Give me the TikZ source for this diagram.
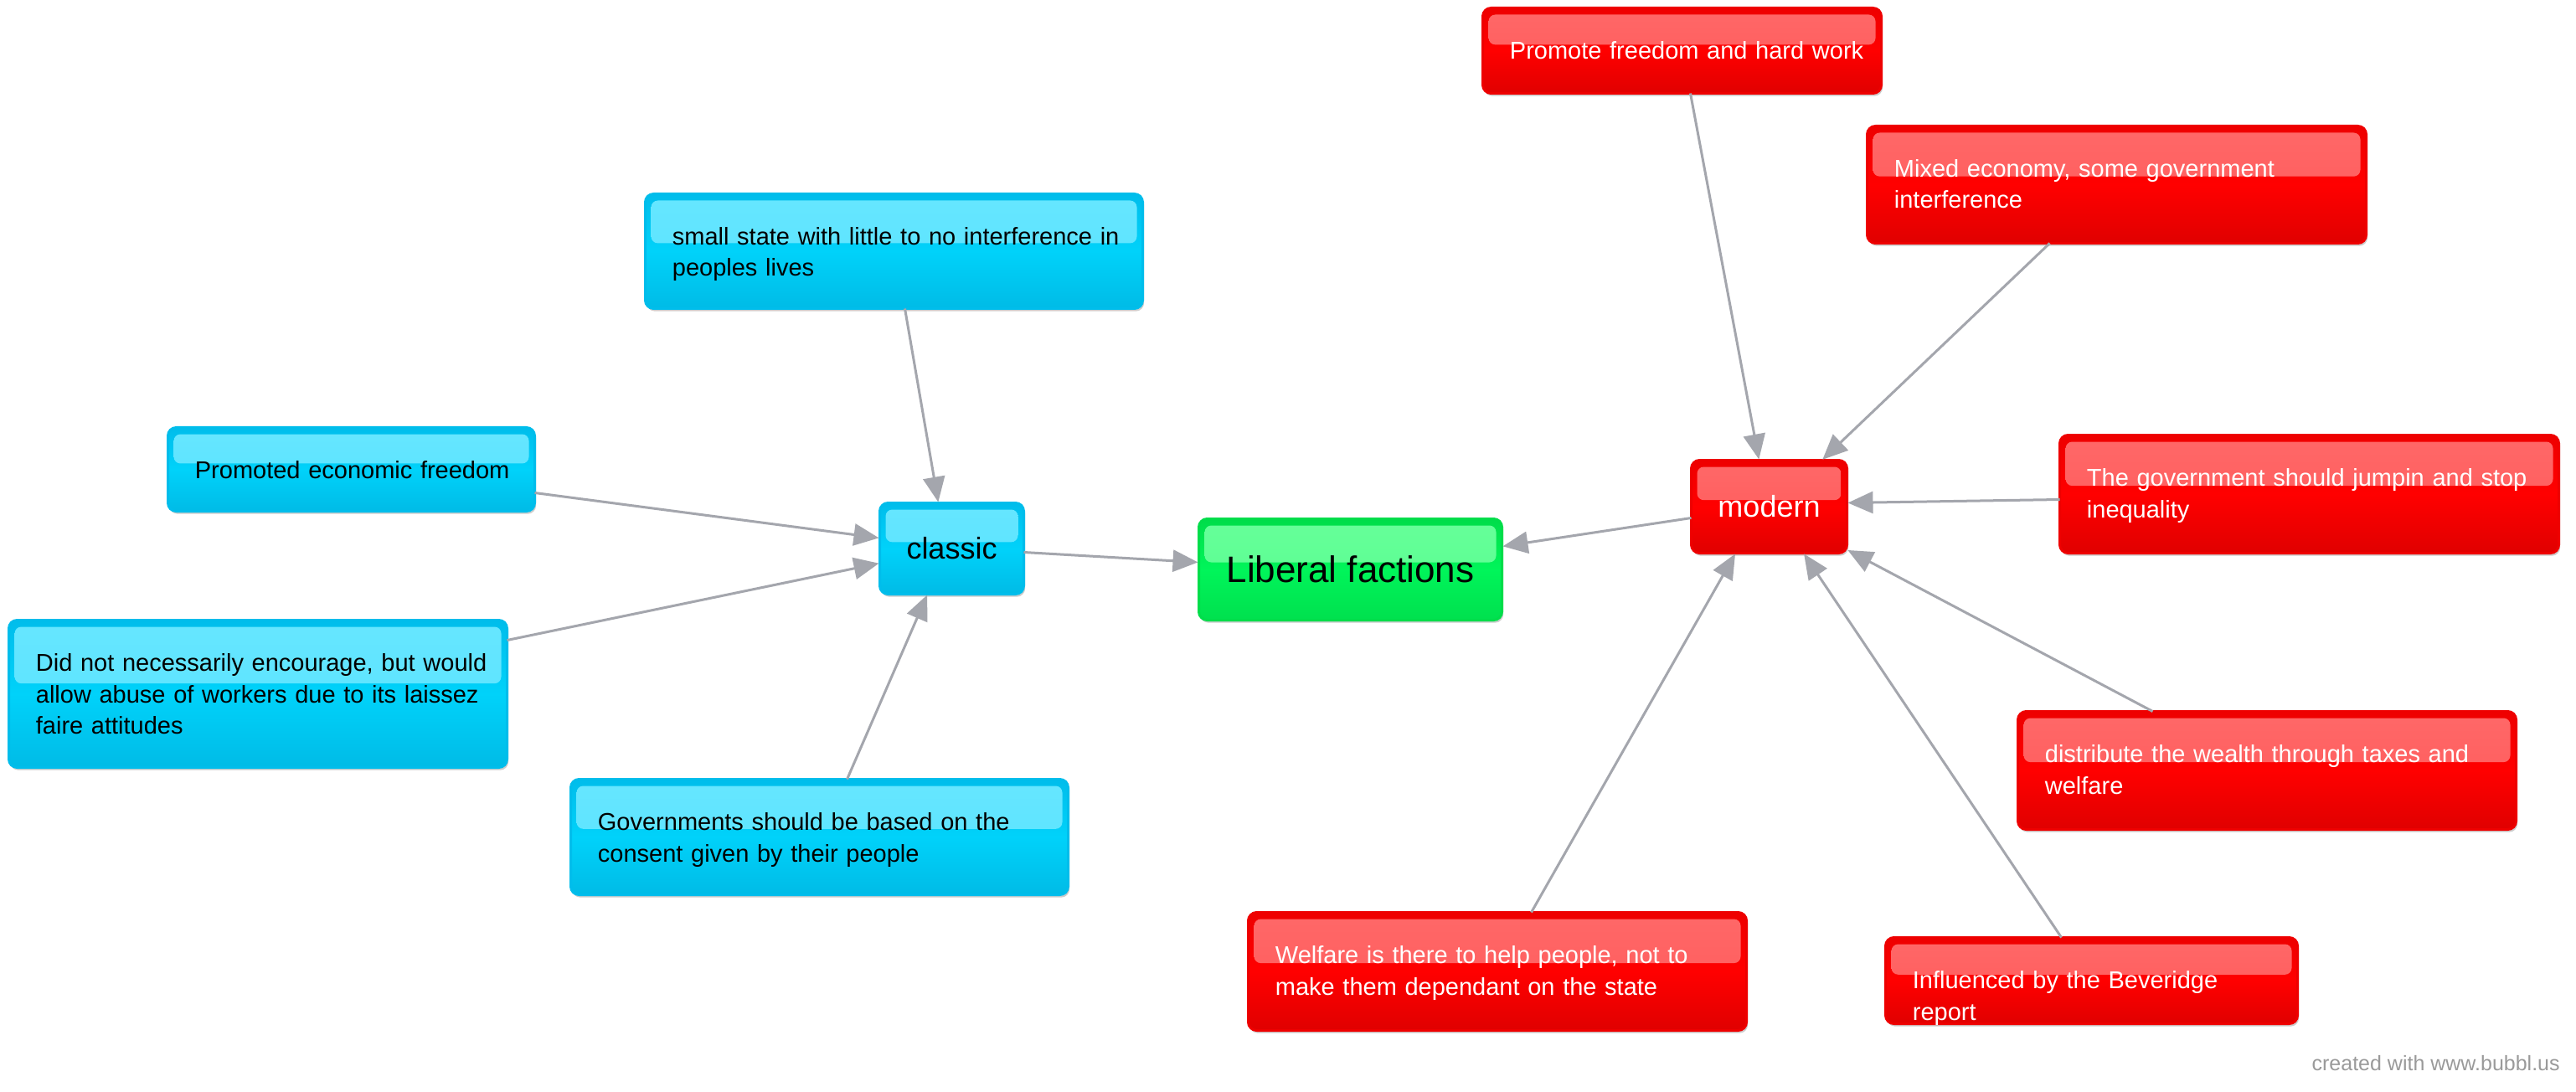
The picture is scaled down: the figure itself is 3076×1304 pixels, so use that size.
\documentclass[tikz,border=0pt]{standalone}
\usepackage{fontspec}
\setmainfont{Liberation Sans}
\usetikzlibrary{calc,arrows.meta,shadows}
\definecolor{bluerim}{HTML}{00BDEB}
\definecolor{bluehi}{HTML}{66E6FF}
\definecolor{bluemid}{HTML}{00D2FA}
\definecolor{bluebot}{HTML}{00BBE6}
\definecolor{redrim}{HTML}{EE0000}
\definecolor{redhi}{HTML}{FF6868}
\definecolor{redmid}{HTML}{FF0000}
\definecolor{redbot}{HTML}{E00000}
\definecolor{greenrim}{HTML}{00DD4A}
\definecolor{greenhi}{HTML}{66FF99}
\definecolor{greenmid}{HTML}{00F55A}
\definecolor{greenbot}{HTML}{00E04E}
\definecolor{arrowgray}{HTML}{A4A6AD}
\definecolor{creditgray}{HTML}{9A9A9A}
\begin{document}
\begin{tikzpicture}[x=0.5pt,y=-0.5pt,
  bx/.style={anchor=north west, inner sep=0pt, outer sep=0pt, rounded corners=5pt,
    draw=#1rim, line width=1.5pt, top color=#1rim, bottom color=#1bot, middle color=#1mid,
    drop shadow={shadow xshift=0.8pt, shadow yshift=-1.6pt, opacity=0.2, fill=black},
    path picture={\shade[top color=#1hi, bottom color=#1hi!85!#1mid, rounded corners=4pt]
      ([shift={(3.5pt,-4pt)}]path picture bounding box.north west) rectangle
      ($(path picture bounding box.north east)!0.43!(path picture bounding box.south east)+(-3.5pt,0)$);}},
  wh/.style 2 args={minimum width={(#1-3)*0.5pt}, minimum height={(#2-3)*0.5pt}},
  tx/.style={anchor=base west, align=left, text width=280pt, inner sep=0pt, font=\fontsize{14.5pt}{18.75pt}\selectfont},
  txw/.style={tx, text=white},
  big/.style={font=\fontsize{18pt}{22pt}\selectfont},
  arr/.style={draw=arrowgray, line width=1.5pt, -{Triangle[length=15pt,width=13pt]}, shorten >=0.5pt}
]
\fill[white] (0,0) rectangle (3076,1304);
\useasboundingbox (0,0) rectangle (3076,1304);

% blue nodes
\node[bx=blue, wh={597}{140}] (small) at (770.5,231.5) {};
\node[bx=blue, wh={441}{103}] (prom) at (200.5,510.5) {};
\node[bx=blue, wh={175}{112}, big] (classic) at (1050.5,600.5) {classic};
\node[bx=blue, wh={598}{179}] (did) at (10.5,740.5) {};
\node[bx=blue, wh={597}{141}] (gov) at (681.5,930.5) {};
% green
\node[bx=green, wh={365}{124}, font=\fontsize{22pt}{26pt}\selectfont] (lib) at (1431.5,619.5) {Liberal factions};
% red nodes
\node[bx=red, wh={479}{105}] (pf) at (1770.5,9.5) {};
\node[bx=red, wh={599}{143}] (mixed) at (2229.5,150.5) {};
\node[bx=red, wh={189}{114}, big, text=white] (modern) at (2019.5,549.5) {modern};
\node[bx=red, wh={599}{144}] (jump) at (2459.5,519.5) {};
\node[bx=red, wh={598}{144}] (dist) at (2409.5,849.5) {};
\node[bx=red, wh={598}{144}] (welf) at (1490.5,1089.5) {};
\node[bx=red, wh={495}{106}] (infl) at (2251.5,1119.5) {};

% texts
\node[tx] (smallt) at ([shift={(32,61)}]small.north west) {small state with little to no interference in\\peoples lives};
\node[tx] (promt) at ([shift={(32,61)}]prom.north west) {Promoted economic freedom};
\node[tx] (didt) at ([shift={(32,61)}]did.north west) {Did not necessarily encourage, but would\\allow abuse of workers due to its laissez\\faire attitudes};
\node[tx] (govt) at ([shift={(32,61)}]gov.north west) {Governments should be based on the\\consent given by their people};
\node[txw] (pft) at ([shift={(32,61)}]pf.north west) {Promote freedom and hard work};
\node[txw] (mixedt) at ([shift={(32,61)}]mixed.north west) {Mixed economy, some government\\interference};
\node[txw] (jumpt) at ([shift={(32,61)}]jump.north west) {The government should jumpin and stop\\inequality};
\node[txw] (distt) at ([shift={(32,61)}]dist.north west) {distribute the wealth through taxes and\\welfare};
\node[txw] (welft) at ([shift={(32,61)}]welf.north west) {Welfare is there to help people, not to\\make them dependant on the state};
\node[txw] (inflt) at ([shift={(32,61)}]infl.north west) {Influenced by the Beveridge\\report};

\node[anchor=east, inner sep=0pt, text=creditgray, font=\fontsize{12.5pt}{15pt}\selectfont] (credit) at (3057,1270) {created with www.bubbl.us};

% connectors
\draw[arr] ([shift={(310,0)}]small.south west) -- ([shift={(70,0)}]classic.north west);
\draw[arr] ([shift={(0,78)}]prom.north east) -- ([shift={(0,42)}]classic.north west);
\draw[arr] ([shift={(0,24)}]did.north east) -- ([shift={(0,72)}]classic.north west);
\draw[arr] ([shift={(330,0)}]gov.north west) -- ([shift={(57,0)}]classic.south west);
\draw[arr] ([shift={(0,59)}]classic.north east) -- ([shift={(0,52)}]lib.north west);
\draw[arr] ([shift={(0,69)}]modern.north west) -- ([shift={(0,33)}]lib.north east);
\draw[arr] ([shift={(248,0)}]pf.south west) -- ([shift={(81,0)}]modern.north west);
\draw[arr] ([shift={(218,0)}]mixed.south west) -- ([shift={(156,0)}]modern.north west);
\draw[arr] ([shift={(0,77)}]jump.north west) -- ([shift={(0,51)}]modern.north east);
\draw[arr] ([shift={(161,0)}]dist.north west) -- ([shift={(0,107)}]modern.north east);
\draw[arr] ([shift={(210,0)}]infl.north west) -- ([shift={(134,0)}]modern.south west);
\draw[arr] ([shift={(338,0)}]welf.north west) -- ([shift={(53,0)}]modern.south west);
\end{tikzpicture}
\end{document}
